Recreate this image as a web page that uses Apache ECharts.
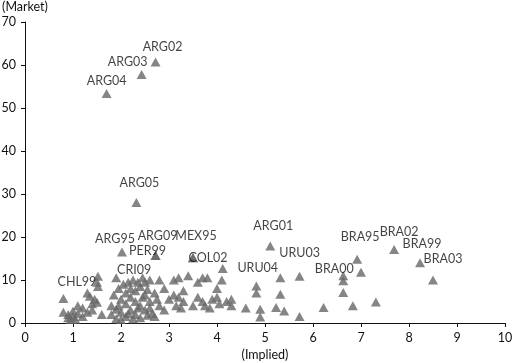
<!DOCTYPE html>
<html>
<head>
<meta charset="utf-8">
<script src="https://cdn.jsdelivr.net/npm/echarts@6/dist/echarts.min.js"></script>
<style>
  html, body { margin: 0; padding: 0; background: #fff; }
  #chart { width: 517px; height: 363px; }
</style>
</head>
<body>
<div id="chart"></div>
<script>
// unlabelled bonds: implied spread (x) vs market spread (y)
const otherImplied = [
  0.8, 0.8, 0.9, 0.9, 0.95, 1.0, 1.0, 1.05, 1.1, 1.2, 1.2, 1.3, 1.35, 1.4, 1.4, 1.45, 1.5, 1.5, 1.6, 1.3, 1.1, 1.52,
  1.8, 1.8, 1.85, 1.9, 1.9, 1.95, 2.0, 2.0, 2.05, 2.1, 2.1, 2.1, 2.15, 2.2, 2.2, 2.2, 2.25, 2.3, 2.3, 2.3, 2.35,
  2.4, 2.4, 2.4, 2.45, 2.5, 2.5, 2.5, 2.55, 2.6, 2.6, 2.6, 2.7, 2.7, 2.8, 2.8, 2.9, 2.9, 2.0, 2.15, 2.35, 2.45,
  2.55, 2.65, 1.95, 2.25, 2.75,
  3.0, 3.1, 3.1, 3.15, 3.2, 3.2, 3.25, 3.3, 3.3, 3.4, 3.5, 3.6, 3.6, 3.7, 3.7, 3.8, 3.75, 3.85, 3.9, 4.0, 4.0,
  4.05, 4.1, 4.2, 4.3, 4.3,
  4.6, 4.82, 4.82, 4.9, 4.9, 5.23, 5.32, 5.32, 5.4, 5.72, 6.22, 6.63, 6.63, 6.83, 7.0, 7.31
];
const otherMarket = [
  5.7, 2.5, 2.0, 1.2, 0.8, 1.5, 2.8, 0.9, 2.2, 3.5, 1.5, 7.0, 6.2, 4.5, 3.0, 5.5, 9.5, 4.8, 2.0, 2.5, 4.0, 8.5,
  2.0, 4.0, 6.5, 3.2, 1.0, 8.0, 5.5, 2.5, 9.0, 7.0, 4.5, 1.5, 9.5, 6.0, 3.0, 8.0, 10.0, 5.0, 2.0, 7.5, 9.5,
  4.0, 1.2, 8.5, 10.5, 6.5, 3.0, 9.5, 1.8, 5.0, 10.0, 3.5, 7.0, 1.5, 10.0, 4.0, 8.0, 3.0, 0.8, 2.2, 3.5, 6.0,
  7.8, 2.2, 4.0, 1.0, 5.5,
  5.5, 10.0, 6.5, 4.0, 10.5, 6.0, 3.5, 7.5, 5.0, 11.0, 4.0, 9.5, 6.0, 5.0, 10.5, 10.5, 4.0, 3.5, 5.5, 8.0, 6.0,
  4.5, 10.0, 5.0, 5.5, 4.0,
  3.5, 8.6, 7.0, 3.2, 1.4, 3.6, 10.5, 6.7, 2.8, 1.5, 3.6, 9.8, 7.1, 4.0, 11.8, 4.9
];

// named bonds
const labelNames = ['ARG02', 'ARG03', 'ARG04', 'ARG05', 'ARG95', 'ARG09', 'PER99', 'MEX95', 'COL02', 'CRI09',
  'CHL99', 'URU04', 'ARG01', 'URU03', 'BRA95', 'BRA02', 'BRA99', 'BRA03', 'BRA00'];
const labelImplied = [2.72, 2.43, 1.70, 2.32, 2.02, 2.72, 2.72, 3.5, 3.5, 1.9,
  1.52, 4.12, 5.11, 5.72, 6.92, 7.69, 8.23, 8.5, 6.63];
const labelMarket = [60.7, 57.8, 53.4, 28.0, 16.5, 15.7, 15.7, 15.2, 15.2, 10.5,
  10.9, 12.7, 17.9, 10.9, 14.8, 17.1, 14.0, 10.0, 11.0];

const xTicks = [0, 1, 2, 3, 4, 5, 6, 7, 8, 9, 10];
const yTicks = [0, 10, 20, 30, 40, 50, 60, 70];

// where each name sits relative to its triangle (px)
const labelOffset = {
  ARG02: [7, -15], ARG03: [-14, -12], ARG04: [0, -12], ARG05: [3, -20], ARG95: [-7, -13],
  ARG09: [2, -20], PER99: [-8, -5], MEX95: [3, -22], COL02: [15, 0], CRI09: [18, -8],
  CHL99: [-21, 6], URU04: [35, 0], ARG01: [3, -20], URU03: [0, -23], BRA95: [3, -22],
  BRA02: [5, -18], BRA99: [2, -19], BRA03: [10, -21], BRA00: [-9, -7]
};

const font = 'Lato, "Liberation Sans", sans-serif';
const markColor = '#666666';

const otherData = otherImplied.map((x, i) => [x, otherMarket[i]]);
const namedData = labelNames.map((n, i) => ({
  name: n,
  value: [labelImplied[i], labelMarket[i]],
  label: { offset: labelOffset[n] }
}));

const chart = echarts.init(document.getElementById('chart'));
chart.setOption({
  animation: false,
  backgroundColor: '#fff',
  grid: { left: 25, right: 12, top: 22, bottom: 40, outerBoundsMode: 'none' },
  xAxis: {
    type: 'value',
    min: xTicks[0],
    max: xTicks[xTicks.length - 1],
    interval: 1,
    name: '(Implied)',
    nameLocation: 'middle',
    nameGap: 25,
    nameTextStyle: { color: '#111', fontFamily: font, fontSize: 12.5 },
    axisLine: { lineStyle: { color: '#111', width: 1 } },
    axisTick: { show: true, length: 4, lineStyle: { color: '#111' } },
    axisLabel: { color: '#111', fontFamily: font, fontSize: 12.5, margin: 8 },
    splitLine: { show: false }
  },
  yAxis: {
    type: 'value',
    min: yTicks[0],
    max: yTicks[yTicks.length - 1],
    interval: 10,
    name: '(Market)',
    nameLocation: 'end',
    nameGap: 9,
    nameTextStyle: { color: '#111', fontFamily: font, fontSize: 12.5, align: 'center' },
    axisLine: { show: true, lineStyle: { color: '#111', width: 1 } },
    axisTick: { show: true, length: 4, lineStyle: { color: '#111' } },
    axisLabel: { color: '#111', fontFamily: font, fontSize: 12.5, margin: 9 },
    splitLine: { show: false }
  },
  series: [
    {
      type: 'scatter',
      symbol: 'triangle',
      symbolSize: [10, 9],
      itemStyle: { color: markColor },
      data: otherData
    },
    {
      type: 'scatter',
      symbol: 'triangle',
      symbolSize: [10, 9],
      itemStyle: { color: markColor },
      label: {
        show: true,
        position: 'inside',
        formatter: '{b}',
        color: '#111',
        fontFamily: font,
        fontSize: 12.5
      },
      data: namedData
    }
  ]
});
</script>
</body>
</html>
